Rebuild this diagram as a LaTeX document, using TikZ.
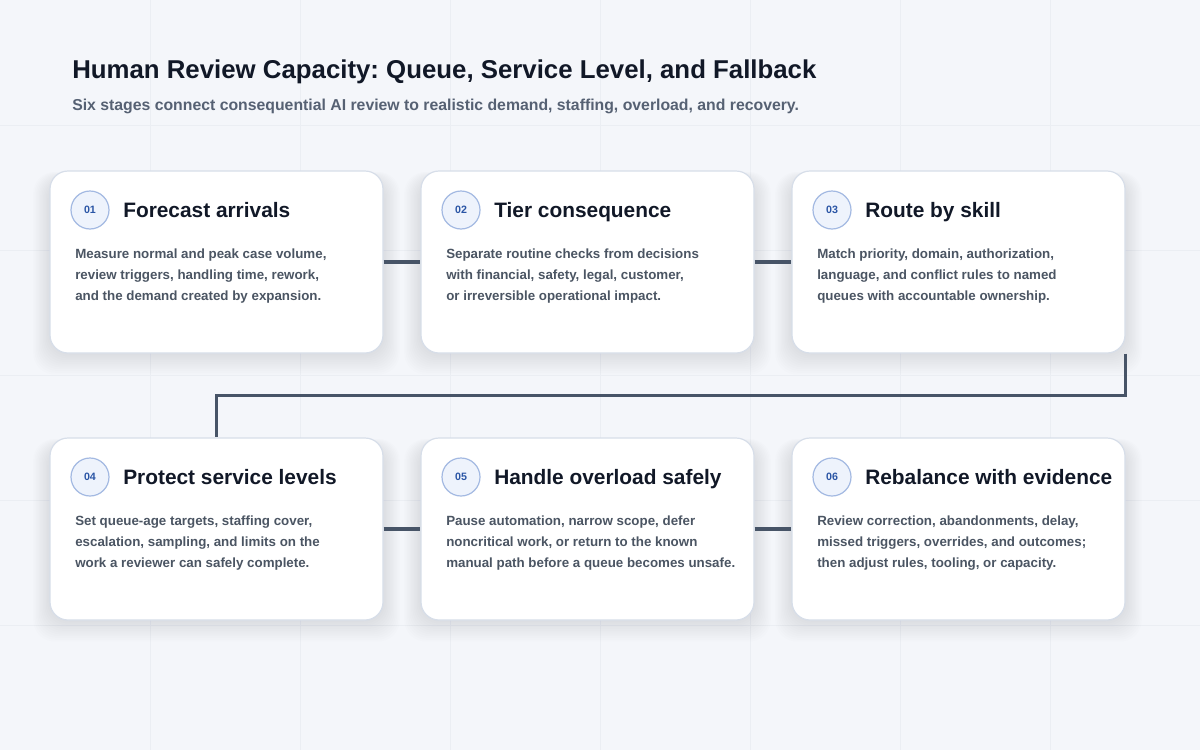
\documentclass[tikz,border=0pt]{standalone}
\usepackage{fontspec}
\setmainfont{Liberation Sans}
\usepackage{tikz}
\frenchspacing
\definecolor{canvas}{HTML}{F4F6FA}
\definecolor{gridcol}{HTML}{EBEEF3}
\definecolor{cardline}{HTML}{D7DEE9}
\definecolor{shadowcol}{HTML}{404A66}
\definecolor{linkcol}{HTML}{475467}
\definecolor{headcol}{HTML}{111827}
\definecolor{subcol}{HTML}{566173}
\definecolor{bodycol}{HTML}{4B5563}
\definecolor{badgefill}{HTML}{EEF3FC}
\definecolor{badgeline}{HTML}{A3B9E2}
\definecolor{badgetext}{HTML}{2A55A5}
\tikzset{
	card/.style={draw=cardline, line width=0.9pt, fill=white, rounded corners=13.5pt,
		minimum width=333*0.75pt, minimum height=182*0.75pt, inner sep=0pt},
	badge/.style={circle, draw=badgeline, line width=0.9pt, fill=badgefill, minimum size=38*0.75pt,
		inner sep=0pt, text=badgetext, font=\fontsize{8}{9}\selectfont\bfseries},
	stagetitle/.style={anchor=base west, inner sep=0pt, text=headcol, font=\fontsize{15.65}{18}\selectfont\bfseries},
	stagetext/.style={anchor=north west, inner sep=0pt, align=left, text=bodycol,
		font=\fontsize{10}{15.75}\selectfont\bfseries},
	link/.style={draw=linkcol, line width=2.6pt},
	gridline/.style={draw=gridcol, line width=0.6pt}
}
\newcommand{\stage}[6]{% {name}{x}{y}{number}{title}{text}
	\begin{scope}[shift={(#2,#3)}]
		\foreach \k in {2,4,...,24}
			\fill[shadowcol, opacity=0.007, rounded corners=16pt] (-\k*0.7,8-\k*0.3) rectangle (333+\k*0.7,182+\k*0.9);
		\node[card] (#1) at (166.5,91) {};
		\node[badge] (#1-num) at (40,39) {#4};
		\node[stagetitle] (#1-title) at (73,46) {#5};
		\node[stagetext] (#1-text) at (25,77.5) {#6};
	\end{scope}
}

\begin{document}
\begin{tikzpicture}[x=0.75pt,y=-0.75pt]
	\fill[canvas] (0,0) rectangle (1200,750);
	\useasboundingbox (0,0) rectangle (1200,750);
	% faint background grid
	\foreach \gx in {150,300,...,1050}
		\draw[gridline] (\gx,0) -- (\gx,750);
	\foreach \gy in {125,250,...,625}
		\draw[gridline] (0,\gy) -- (1200,\gy);

	\node[anchor=base west, inner sep=0pt, text=headcol, font=\fontsize{19.35}{23}\selectfont\bfseries] (title) at (72,78)
		{Human Review Capacity: Queue, Service Level, and Fallback};
	\node[anchor=base west, inner sep=0pt, text=subcol, font=\fontsize{11.85}{14}\selectfont\bfseries] (subtitle) at (72,110)
		{Six stages connect consequential AI review to realistic demand, staffing, overload, and recovery.};

	\stage{s1}{50}{171}{01}{Forecast arrivals}
		{Measure normal and peak case volume,\\review triggers, handling time, rework,\\and the demand created by expansion.}
	\stage{s2}{421}{171}{02}{Tier consequence}
		{Separate routine checks from decisions\\with financial, safety, legal, customer,\\or irreversible operational impact.}
	\stage{s3}{792}{171}{03}{Route by skill}
		{Match priority, domain, authorization,\\language, and conflict rules to named\\queues with accountable ownership.}
	\stage{s4}{50}{438}{04}{Protect service levels}
		{Set queue-age targets, staffing cover,\\escalation, sampling, and limits on the\\work a reviewer can safely complete.}
	\stage{s5}{421}{438}{05}{Handle overload safely}
		{Pause automation, narrow scope, defer\\noncritical work, or return to the known\\manual path before a queue becomes unsafe.}
	\stage{s6}{792}{438}{06}{Rebalance with evidence}
		{Review correction, abandonments, delay,\\missed triggers, overrides, and outcomes;\\then adjust rules, tooling, or capacity.}

	% connectors
	\draw[link] (s1) -- (s2);
	\draw[link] (s2) -- (s3);
	\draw[link] (s3.south east) -- ++(0,42) -| (s4.north);
	\draw[link] (s4) -- (s5);
	\draw[link] (s5) -- (s6);
\end{tikzpicture}
\end{document}
